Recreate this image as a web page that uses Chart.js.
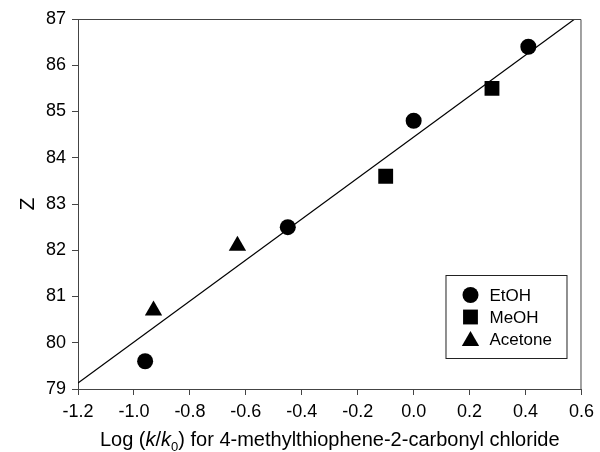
<!DOCTYPE html>
<html>
<head>
<meta charset="utf-8">
<script src="https://cdn.jsdelivr.net/npm/chart.js@4/dist/chart.umd.min.js"></script>
<style>
  body { margin: 0; background: #fff; }
  #wrap { width: 600px; height: 452px; }
</style>
</head>
<body>
<div id="wrap"><canvas id="zChart"></canvas></div>
<script>
// data
const etohX = [-0.96, -0.45, 0.0, 0.41];
const etohY = [79.6, 82.5, 84.8, 86.4];
const meohX = [-0.1, 0.28];
const meohY = [83.6, 85.5];
const acetoneX = [-0.93, -0.63];
const acetoneY = [80.7, 82.1];
// regression line end points
const fitX = [-1.2, 0.576];
const fitY = [79.13, 87.0];

const xTicks = [-1.2, -1.0, -0.8, -0.6, -0.4, -0.2, 0.0, 0.2, 0.4, 0.6];
const yTicks = [79, 80, 81, 82, 83, 84, 85, 86, 87];

const legendNames = ["EtOH", "MeOH", "Acetone"];

function pts(xs, ys) {
  return xs.map((x, i) => ({ x: x, y: ys[i] }));
}

const FONT = "'Liberation Sans', Arial, sans-serif";
const AXIS = "#444";

function drawMarker(ctx, style, x, y, r) {
  ctx.beginPath();
  if (style === "circle") {
    ctx.arc(x, y, r, 0, Math.PI * 2);
  } else if (style === "rect") {
    const s = r * Math.SQRT1_2;
    ctx.rect(x - s, y - s, 2 * s, 2 * s);
  } else {
    for (let k = 0; k < 3; k++) {
      const a = k * 2 * Math.PI / 3;
      const px = x + Math.sin(a) * r;
      const py = y - Math.cos(a) * r;
      if (k === 0) ctx.moveTo(px, py); else ctx.lineTo(px, py);
    }
    ctx.closePath();
  }
  ctx.fill();
}

// frame, x title with italic k and subscript 0, boxed legend
const extras = {
  id: "extras",
  afterDraw(chart) {
    const ctx = chart.ctx;
    const a = chart.chartArea;
    ctx.save();

    ctx.strokeStyle = AXIS;
    ctx.lineWidth = 1;
    ctx.beginPath();
    ctx.moveTo(a.left, a.top + 0.5);
    ctx.lineTo(a.right - 0.5, a.top + 0.5);
    ctx.lineTo(a.right - 0.5, a.bottom);
    ctx.stroke();

    // x axis title
    const parts = [
      { t: "Log (", f: "20px " + FONT, dy: 0 },
      { t: "k", f: "italic 20px " + FONT, dy: 0 },
      { t: "/", f: "20px " + FONT, dy: 0 },
      { t: "k", f: "italic 20px " + FONT, dy: 0 },
      { t: "0", f: "13px " + FONT, dy: 5 },
      { t: ") for 4-methylthiophene-2-carbonyl chloride", f: "20px " + FONT, dy: 0 }
    ];
    let total = 0;
    parts.forEach(p => { ctx.font = p.f; p.w = ctx.measureText(p.t).width; total += p.w; });
    let x = (a.left + a.right) / 2 - total / 2;
    const base = 446;
    ctx.fillStyle = "#000";
    ctx.textBaseline = "alphabetic";
    ctx.textAlign = "left";
    parts.forEach(p => {
      ctx.font = p.f;
      ctx.fillText(p.t, x, base + p.dy);
      x += p.w;
    });

    // legend box
    const bx = a.right - 136, by = a.bottom - 114, bw = 121, bh = 83;
    ctx.strokeStyle = "#222";
    ctx.strokeRect(bx + 0.5, by + 0.5, bw, bh);
    ctx.font = "17px " + FONT;
    ctx.textBaseline = "middle";
    const styles = ["circle", "rect", "triangle"];
    const sizes = [8, 10.5, 10];
    legendNames.forEach((name, i) => {
      const cy = by + 20 + i * 22;
      ctx.fillStyle = "#000";
      drawMarker(ctx, styles[i], bx + 25, cy + (i === 2 ? 2 : 0), sizes[i]);
      ctx.fillText(name, bx + 44, cy + 1);
    });
    ctx.restore();
  }
};

const ctx = document.getElementById("zChart").getContext("2d");
const zChart = new Chart(ctx, {
  type: "scatter",
  data: {
    datasets: [
      {
        type: "line",
        label: "fit",
        data: pts(fitX, fitY),
        borderColor: "#000",
        borderWidth: 1.2,
        pointRadius: 0,
        fill: false,
        order: 5
      },
      {
        label: legendNames[0],
        data: pts(etohX, etohY),
        pointStyle: "circle",
        pointRadius: 8,
        backgroundColor: "#000",
        borderColor: "#000",
        borderWidth: 0
      },
      {
        label: legendNames[1],
        data: pts(meohX, meohY),
        pointStyle: "rect",
        pointRadius: 10.5,
        backgroundColor: "#000",
        borderColor: "#000",
        borderWidth: 0
      },
      {
        label: legendNames[2],
        data: pts(acetoneX, acetoneY),
        pointStyle: "triangle",
        pointRadius: 10,
        backgroundColor: "#000",
        borderColor: "#000",
        borderWidth: 0
      }
    ]
  },
  options: {
    responsive: true,
    maintainAspectRatio: false,
    animation: false,
    layout: { padding: { top: 19, right: 0, left: 0, bottom: 0 } },
    plugins: {
      legend: { display: false },
      tooltip: { enabled: false }
    },
    scales: {
      x: {
        type: "linear",
        min: xTicks[0],
        max: xTicks[xTicks.length - 1],
        afterBuildTicks: s => { s.ticks = xTicks.map(v => ({ value: v })); },
        afterFit: s => { s.height = 63; },
        grid: { drawOnChartArea: false, tickLength: 6, color: AXIS },
        border: { color: AXIS, width: 1 },
        ticks: {
          color: "#000",
          font: { family: FONT, size: 18 },
          padding: 6,
          maxRotation: 0,
          callback: v => Number(v).toFixed(1)
        }
      },
      y: {
        min: yTicks[0],
        max: yTicks[yTicks.length - 1],
        afterBuildTicks: s => { s.ticks = yTicks.map(v => ({ value: v })); },
        afterFit: s => { s.width = 78; },
        grid: { drawOnChartArea: false, tickLength: 6, color: AXIS },
        border: { color: AXIS, width: 1 },
        title: {
          display: true,
          text: "Z",
          color: "#000",
          font: { family: FONT, size: 21 },
          padding: { top: 16, bottom: 0 }
        },
        ticks: {
          color: "#000",
          font: { family: FONT, size: 18 },
          padding: 6
        }
      }
    }
  },
  plugins: [extras]
});
</script>
</body>
</html>
